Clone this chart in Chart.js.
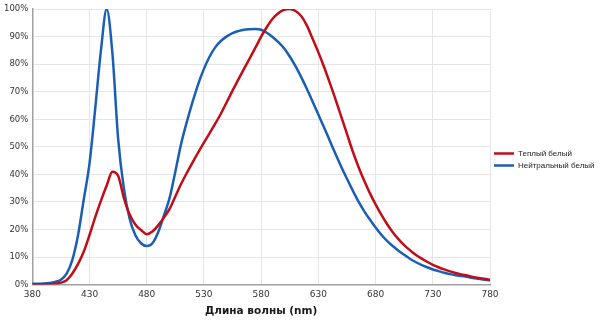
<!DOCTYPE html>
<html>
<head>
<meta charset="utf-8">
<script src="https://cdn.jsdelivr.net/npm/chart.js@4"></script>
<style>
  html, body { margin: 0; padding: 0; background: #ffffff; }
  #wrap { width: 600px; height: 322px; }
</style>
</head>
<body>
<div id="wrap"><canvas id="spectrum"></canvas></div>
<script>
// Wavelength grid, nm
const wavelengths = [
  380, 385, 390, 395, 400, 405, 410, 415, 420, 425,
  430, 435, 440, 445, 450, 455, 460, 465, 470, 475,
  480, 485, 490, 495, 500, 505, 510, 515, 520, 525,
  530, 535, 540, 545, 550, 555, 560, 565, 570, 575,
  580, 585, 590, 595, 600, 605, 610, 615, 620, 625,
  630, 635, 640, 645, 650, 655, 660, 665, 670, 675,
  680, 685, 690, 695, 700, 705, 710, 715, 720, 725,
  730, 735, 740, 745, 750, 755, 760, 765, 770, 775,
  780
];

// Relative intensity, % — warm white
const warmWhite = [
  0, 0, 0, 0.1, 0.3, 0.7, 1.6, 4, 7.5, 12,
  18, 24.5, 30.5, 36, 41, 39.5, 31.5, 25.5, 21.8, 19.8,
  18.3, 19.3, 21.5, 24.3, 27.5, 32, 36.5, 40.5, 44.3, 48,
  51.5, 55, 58.5, 62.2, 66.3, 70.4, 74.4, 78.3, 82.1, 86,
  90, 93.5, 96.5, 98.5, 99.7, 100, 99.3, 97.5, 94, 89.2,
  84.3, 79, 73.2, 67.2, 61, 54.7, 48.4, 42.8, 37.8, 33.2,
  29.1, 25.4, 22, 19, 16.5, 14.3, 12.5, 10.8, 9.5, 8.3,
  7.2, 6.3, 5.5, 4.8, 4.2, 3.7, 3.3, 2.8, 2.4, 2.1,
  1.8
];

// Relative intensity, % — neutral white
const neutralWhite = [
  0.3, 0.3, 0.4, 0.6, 1.0, 1.8, 4.0, 9, 18, 31,
  44, 64, 85, 100, 84, 53, 35, 24, 18, 15,
  14, 15, 19, 25, 31.5, 41, 51, 59, 66.2, 72.8,
  78.3, 82.8, 86.2, 88.5, 90.1, 91.3, 92, 92.5, 92.7, 92.8,
  92.5, 91.4, 89.9, 88, 85.8, 82.8, 79.3, 75.3, 71, 66.4,
  61.7, 57, 52.2, 47.4, 42.8, 38.4, 34.2, 30.2, 26.7, 23.6,
  20.7, 18.1, 15.9, 14, 12.3, 10.8, 9.4, 8.2, 7.2, 6.3,
  5.5, 4.9, 4.3, 3.8, 3.4, 3.1, 2.8, 2.4, 2.1, 1.8,
  1.5
];

const seriesNames = ['Теплый белый', 'Нейтральный белый'];
const xTickValues = [380, 430, 480, 530, 580, 630, 680, 730, 780];
const yTickValues = [0, 10, 20, 30, 40, 50, 60, 70, 80, 90, 100];
const xAxisTitle = 'Длина волны (nm)';

const toPoints = vals => wavelengths.map((w, i) => ({ x: w, y: vals[i] }));

new Chart(document.getElementById('spectrum'), {
  type: 'line',
  data: {
    datasets: [
      {
        label: seriesNames[0],
        data: toPoints(warmWhite),
        borderColor: '#c00d18',
        backgroundColor: '#c00d18',
        borderWidth: 2.5,
        pointRadius: 0,
        cubicInterpolationMode: 'monotone'
      },
      {
        label: seriesNames[1],
        data: toPoints(neutralWhite),
        borderColor: '#1a5fb4',
        backgroundColor: '#1a5fb4',
        borderWidth: 2.5,
        pointRadius: 0,
        cubicInterpolationMode: 'monotone'
      }
    ]
  },
  options: {
    responsive: true,
    maintainAspectRatio: false,
    animation: false,
    layout: { padding: { top: 1, right: 0, bottom: 4, left: 0 } },
    plugins: {
      tooltip: { enabled: false },
      legend: {
        position: 'right',
        align: 'center',
        maxWidth: 110,
        labels: {
          usePointStyle: true,
          pointStyle: 'line',
          pointStyleWidth: 20,
          padding: 4,
          color: '#222',
          font: { family: "'Liberation Sans', Arial, sans-serif", size: 8 }
        }
      }
    },
    scales: {
      x: {
        type: 'linear',
        min: 380,
        max: 780,
        afterBuildTicks: axis => { axis.ticks = xTickValues.map(v => ({ value: v })); },
        grid: { color: '#e6e6e6', drawTicks: false },
        border: { color: '#a0a0a0', width: 1.5 },
        ticks: {
          padding: 5,
          color: '#333',
          maxRotation: 0,
          font: { family: "'DejaVu Sans', Verdana, sans-serif", size: 9 }
        },
        title: {
          display: true,
          text: xAxisTitle,
          color: '#1a1a1a',
          padding: { top: 0, bottom: 0 },
          font: { family: "'DejaVu Sans', Verdana, sans-serif", size: 10.5, weight: 'bold' }
        }
      },
      y: {
        min: 0,
        max: 100,
        afterBuildTicks: axis => { axis.ticks = yTickValues.map(v => ({ value: v })); },
        grid: { color: '#e6e6e6', drawTicks: false },
        border: { color: '#a0a0a0', width: 1.5 },
        ticks: {
          padding: 4,
          color: '#333',
          callback: v => v + '%',
          font: { family: "'DejaVu Sans', Verdana, sans-serif", size: 8.5 }
        }
      }
    }
  }
});
</script>
</body>
</html>
